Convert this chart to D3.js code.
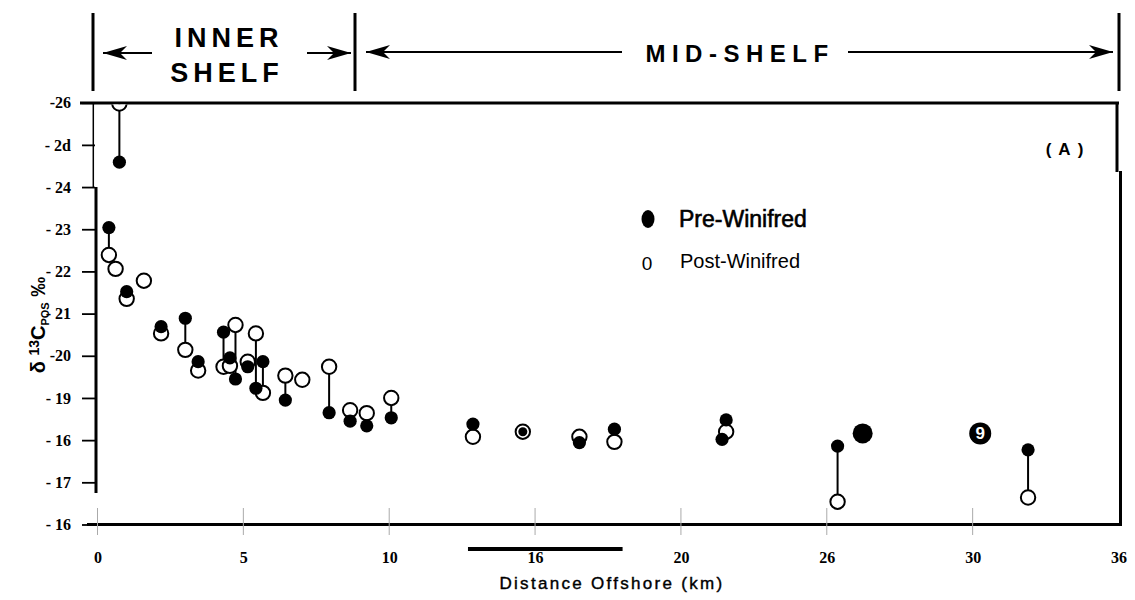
<!DOCTYPE html>
<html><head><meta charset="utf-8">
<script src="https://cdn.jsdelivr.net/npm/d3@7"></script>
<style>body{margin:0;background:#fff} svg{display:block}</style>
</head><body><svg id="c" width="1135" height="600"></svg>
<script>
// ---- data ----
const stationKm    = [0.39, 0.62, 0.75, 1.00, 1.59, 2.18, 3.01, 3.45, 4.32, 4.54, 4.73, 5.15, 5.43, 5.67, 6.44, 7.02, 7.94, 8.66, 9.23, 10.07, 12.87, 14.58, 16.52, 17.72, 21.41, 21.55, 25.37, 31.90];
const preWinifred  = [-23.04, null, -24.59, -21.52, null, -20.69, -20.89, -19.86, -20.56, -19.95, -19.45, -19.74, -19.23, -19.86, -18.95, null, -18.65, -18.45, -18.34, -18.53, -18.38, -18.20, -17.94, -18.26, -18.02, -18.48, -17.86, -17.77];
const postWinifred = [-22.39, -22.06, -25.98, -21.35, -21.78, -20.53, -20.14, -19.65, -19.74, -19.76, -20.73, -19.86, -20.53, -19.12, -19.53, -19.43, -19.74, -18.71, -18.64, -19.00, -18.08, -18.20, -18.08, -17.96, null, -18.20, -16.54, -16.64];
const largePreKm = [26.23], largePreVal = [-18.16];
const badgeKm = [30.26], badgeVal = [-18.16], badgeLabel = ["9"];
const yTickValues = [-26, -25, -24, -23, -22, -21, -20, -19, -18, -17, -16];
const yTickLabels = ["-26", "- 2d", "- 24", "- 23", "- 22", "- 21", "-20", "- 19", "- 16", "- 17", "- 16"];
const xTickValues = [0, 5, 10, 15, 20, 25, 30, 35];
const xTickLabels = ["0", "5", "10", "16", "20", "26", "30", "36"];
const legendLabels = ["Pre-Winifred", "Post-Winifred"];

// ---- layout ----
const svg = d3.select("#c");
svg.append("rect").attr("width",1135).attr("height",600).attr("fill","#fff");
const x = d3.scaleLinear().domain([0,35]).range([97.5,1118.5]);
const y = d3.scaleLinear().domain([-26,-16]).range([102.7,524.5]);

// top zone annotations
const topG = svg.append("g");
[93,355,1119].forEach(px=>topG.append("line").attr("x1",px).attr("x2",px).attr("y1",13).attr("y2",91).attr("stroke","#000").attr("stroke-width",3));
function arrow(x1,x2,yy,dir){ // dir -1 head at x1 (left), +1 head at x2
  topG.append("line").attr("x1",x1).attr("x2",x2).attr("y1",yy).attr("y2",yy).attr("stroke","#000").attr("stroke-width",2);
  const t = dir<0?x1:x2, s = dir<0?1:-1;
  topG.append("path").attr("d",`M${t},${yy} L${t+s*24},${yy-7} L${t+s*17},${yy} L${t+s*24},${yy+7} Z`).attr("fill","#000");
}
arrow(103,152,53,-1); arrow(307,351,53,1); arrow(366,622,52,-1); arrow(848,1113,52,1);
function txt(g,s,xx,yy,size,ls){return g.append("text").attr("x",xx).attr("y",yy).attr("font-size",size).attr("text-anchor","middle")
  .attr("letter-spacing",ls||0).attr("font-family","Liberation Sans, Arial, sans-serif").attr("font-weight","bold").text(s);}
txt(topG,"INNER",229,47,27,5);
txt(topG,"SHELF",227,82,27,5);
txt(topG,"MID-SHELF",740,62,24,6.5);

// frame
const fr = svg.append("g").attr("stroke","#000").attr("fill","none");
fr.append("line").attr("x1",80).attr("x2",1119).attr("y1",103).attr("y2",103).attr("stroke-width",3);
fr.append("line").attr("x1",1117).attr("x2",1117).attr("y1",102).attr("y2",172).attr("stroke-width",3);
fr.append("line").attr("x1",1120.5).attr("x2",1120.5).attr("y1",171).attr("y2",526).attr("stroke-width",3);
fr.append("line").attr("x1",87).attr("x2",1122).attr("y1",y(-16)).attr("y2",y(-16)).attr("stroke-width",3);
fr.append("line").attr("x1",93.3).attr("x2",93.3).attr("y1",103).attr("y2",y(-24)).attr("stroke-width",1.5);
fr.append("line").attr("x1",96).attr("x2",96).attr("y1",y(-24)).attr("y2",493).attr("stroke-width",3);

// y axis
const ya = svg.append("g").attr("transform","translate(95,0)")
  .call(d3.axisLeft(y).tickValues(yTickValues).tickFormat((d,i)=>yTickLabels[i]).tickSize(13).tickPadding(11));
ya.select(".domain").remove();
ya.selectAll(".tick line").attr("stroke","#000").attr("stroke-width",1.8);
ya.selectAll(".tick text").attr("font-family","Liberation Serif, serif").attr("font-weight","bold").attr("font-size",16).attr("fill","#000");

// x axis
const xa = svg.append("g").attr("transform","translate(0,"+y(-16)+")")
  .call(d3.axisBottom(x).tickValues(xTickValues).tickFormat((d,i)=>xTickLabels[i]).tickSize(0).tickPadding(27));
xa.select(".domain").remove();
xa.selectAll(".tick text").attr("font-family","Liberation Serif, serif").attr("font-weight","bold").attr("font-size",16).attr("fill","#000");
svg.append("g").selectAll("line").data(xTickValues.slice(0,7)).join("line")
  .attr("x1",d=>x(d)).attr("x2",d=>x(d)).attr("y1",508).attr("y2",535).attr("stroke","#aaa").attr("stroke-width",1);
svg.append("line").attr("x1",x(12.7)).attr("x2",x(18)).attr("y1",549).attr("y2",549).attr("stroke","#000").attr("stroke-width",4);
svg.append("text").attr("x",612).attr("y",589).attr("text-anchor","middle").attr("font-family","Liberation Sans Narrow, Liberation Sans, sans-serif")
  .attr("font-size",17).attr("letter-spacing",2.3).attr("stroke","#000").attr("stroke-width",0.4).text("Distance Offshore (km)");

// y title
const yt = svg.append("text").attr("transform","translate(45,325) rotate(-90)").attr("text-anchor","middle")
  .attr("font-family","Liberation Sans, sans-serif").attr("font-weight","bold").attr("font-size",20).attr("fill","#000");
yt.append("tspan").text("δ ");
yt.append("tspan").attr("font-size",14).attr("dy",-6).text("13");
yt.append("tspan").attr("dy",6).text("C");
yt.append("tspan").attr("font-size",11).attr("dy",4).text("POS");
yt.append("tspan").attr("dy",-4).text("  ‰");

// marks
svg.append("defs").append("clipPath").attr("id","clip").append("rect").attr("x",90).attr("y",104.5).attr("width",1030).attr("height",440);
const plot = svg.append("g").attr("clip-path","url(#clip)");
const rows = stationKm.map((k,i)=>({k, pre:preWinifred[i], post:postWinifred[i]}));
plot.selectAll("line.pair").data(rows.filter(r=>r.pre!=null&&r.post!=null)).join("line")
  .attr("x1",r=>x(r.k)).attr("x2",r=>x(r.k)).attr("y1",r=>y(r.pre)).attr("y2",r=>y(r.post)).attr("stroke","#000").attr("stroke-width",2);
plot.selectAll("circle.post").data(rows.filter(r=>r.post!=null)).join("circle")
  .attr("cx",r=>x(r.k)).attr("cy",r=>y(r.post)).attr("r",7.2).attr("fill","#fff").attr("stroke","#000").attr("stroke-width",2);
plot.selectAll("circle.pre").data(rows.filter(r=>r.pre!=null)).join("circle")
  .attr("cx",r=>x(r.k)).attr("cy",r=>y(r.pre)).attr("r",r=>r.pre===r.post?4.5:6.6).attr("fill","#000");
plot.selectAll("circle.big").data(largePreKm.map((k,i)=>({k,v:largePreVal[i]}))).join("circle")
  .attr("cx",d=>x(d.k)).attr("cy",d=>y(d.v)).attr("r",10).attr("fill","#000");
const bd = badgeKm.map((k,i)=>({k,v:badgeVal[i],t:badgeLabel[i]}));
plot.selectAll("circle.badge").data(bd).join("circle").attr("cx",d=>x(d.k)).attr("cy",d=>y(d.v)).attr("r",11).attr("fill","#000");
plot.selectAll("text.badge").data(bd).join("text").attr("x",d=>x(d.k)).attr("y",d=>y(d.v)+6).attr("text-anchor","middle")
  .attr("font-family","Liberation Sans, sans-serif").attr("font-weight","bold").attr("font-size",17).attr("fill","#fff").text(d=>d.t);

// legend
svg.append("ellipse").attr("cx",648).attr("cy",219).attr("rx",6.5).attr("ry",9).attr("fill","#000");
svg.append("text").attr("x",679).attr("y",227).attr("font-family","Liberation Sans, sans-serif").attr("font-size",23)
  .attr("stroke","#000").attr("stroke-width",0.6).text(legendLabels[0]);
svg.append("text").attr("x",647).attr("y",270).attr("text-anchor","middle").attr("font-family","Liberation Sans, sans-serif").attr("font-size",19).text("0");
svg.append("text").attr("x",680).attr("y",268).attr("font-family","Liberation Sans, sans-serif").attr("font-size",20).text(legendLabels[1]);

// panel label
svg.append("text").attr("x",1068).attr("y",155).attr("text-anchor","middle").attr("font-family","Liberation Sans, sans-serif").attr("font-weight","bold")
  .attr("font-size",17).attr("letter-spacing",7).text("(A)");
</script></body></html>
